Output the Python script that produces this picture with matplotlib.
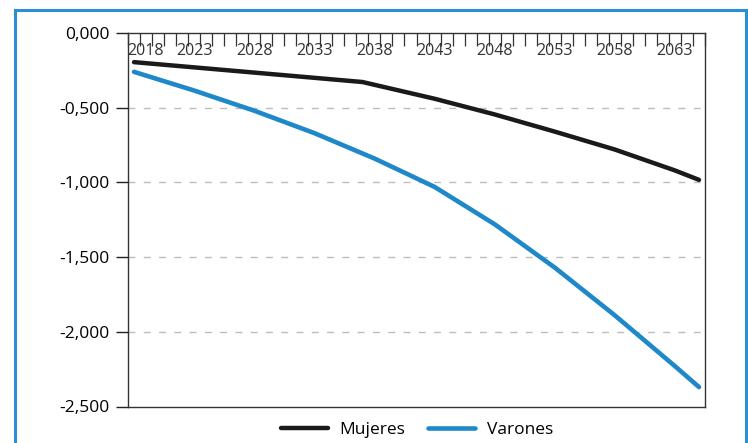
import numpy as np
import matplotlib
matplotlib.use("Agg")
import matplotlib.pyplot as plt
import matplotlib.transforms as mtransforms
from matplotlib.patches import Rectangle

plt.rcParams['font.family'] = ['Open Sans', 'DejaVu Sans']

# Years on the category axis and the values
years = list(range(2018, 2066))
sample_years = [2018, 2023, 2028, 2033, 2037, 2043, 2048, 2053, 2058, 2063, 2065]
mujeres = [-0.195, -0.23, -0.265, -0.30, -0.328, -0.44, -0.545, -0.66, -0.78, -0.92, -0.983]
varones_years = [2018, 2023, 2028, 2033, 2038, 2043, 2048, 2053, 2058, 2063, 2065]
varones = [-0.26, -0.385, -0.52, -0.67, -0.84, -1.03, -1.28, -1.57, -1.89, -2.23, -2.37]
y_ticks = [0.0, -0.5, -1.0, -1.5, -2.0, -2.5]
label_years = list(range(2018, 2066, 5))

black = '#1a1a1a'
blue = '#1f88c9'

fig = plt.figure(figsize=(7.48, 4.43), dpi=100)
ax = fig.add_axes([128 / 748, 36.5 / 443, 577 / 748, 373.5 / 443])

# blue frame around the figure
fig.patches.append(Rectangle((15 / 748, -0.05), 731 / 748, 1.05 - 10 / 443,
                             transform=fig.transFigure, fill=False,
                             edgecolor='#2b8fd3', linewidth=2.2, zorder=0))

xm = [years.index(y) for y in sample_years]
xv = [years.index(y) for y in varones_years]
ax.plot(xm, mujeres, color=black, lw=3.2, solid_capstyle='round', label='Mujeres', zorder=3)
ax.plot(xv, varones, color=blue, lw=3.3, solid_capstyle='round', label='Varones', zorder=3)

ax.set_xlim(-0.5, len(years) - 0.5)
ax.set_ylim(-2.5, 0.0)

# y axis
ax.set_yticks(y_ticks)
ax.set_yticklabels([('%.3f' % v).replace('.', ',') for v in y_ticks], fontsize=12.5)
ax.tick_params(axis='y', direction='out', length=9, width=1, color='#222222', pad=4)
for v in y_ticks[1:-1]:
    ax.axhline(v, color='#bdbdbd', lw=1, ls=(0, (5, 6)), zorder=1)

# x axis: ticks on the top spine between categories, labels below it
ax.set_xticks([])
ax.set_xticks(np.arange(-0.5, len(years), 1.0), minor=True)
ax.tick_params(axis='x', which='minor', top=True, bottom=False, direction='in',
               length=9, width=0.9, color='#333333', labelbottom=False)
ax.tick_params(axis='x', which='major', bottom=False, labelbottom=False)
trans = ax.get_xaxis_transform()
for y in label_years:
    i = years.index(y)
    t = ax.text(i, 1 - 10 / 373.5, str(y), transform=trans, ha='center', va='top',
                fontsize=11.5, color='#333333')
    if y == label_years[0]:
        t.set_ha('left')
        t.set_transform(trans + mtransforms.ScaledTranslation(-7 / 100, 0, fig.dpi_scale_trans))

for s in ax.spines.values():
    s.set_color('#333333')
    s.set_linewidth(1.0)

fig.legend(loc='center', bbox_to_anchor=(417 / 748, 13 / 443), ncol=2, frameon=False,
           fontsize=12.5, handlelength=2.7, handletextpad=0.7, columnspacing=1.3)

fig.savefig('out.png', dpi=100)
